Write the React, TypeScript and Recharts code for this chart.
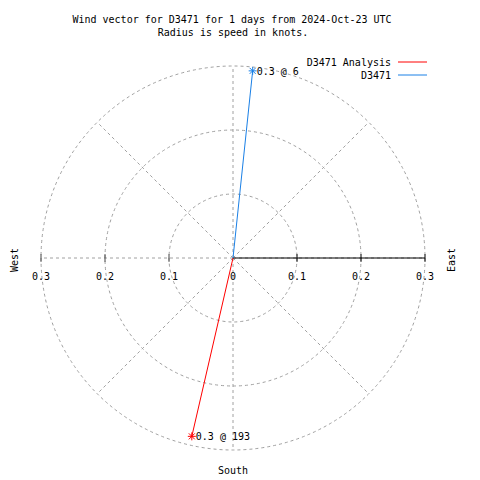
import React from 'react';
import {
  ScatterChart, Scatter, XAxis, YAxis, ReferenceLine, ReferenceDot,
  RadarChart, PolarGrid, PolarAngleAxis, PolarRadiusAxis, Radar,
} from 'recharts';

// wind vectors: speed in knots, direction in degrees (from north, clockwise)
const seriesNames = ['D3471 Analysis', 'D3471'];
const speeds = [0.286, 0.294];
const directions = [193, 6];
const seriesColors = ['#ff0000', '#1a80e6'];

const compass = ['N', 'NE', 'E', 'SE', 'S', 'SW', 'W', 'NW'];
const radiusTicks = [0.1, 0.2, 0.3];
const axisTicks = [-0.3, -0.2, -0.1, 0, 0.1, 0.2, 0.3];
const maxSpeed = 0.3;

const W = 480;
const H = 480;
const margin = { top: 66, right: 55, bottom: 30, left: 41 };
const plotW = W - margin.left - margin.right;
const plotH = H - margin.top - margin.bottom;
const cx = margin.left + plotW / 2;
const cy = margin.top + plotH / 2;
const outerR = plotW / 2;
const font = '"DejaVu Sans Mono", monospace';
const grey = '#a0a0a0';

const gridData = compass.map((d) => ({ dir: d, v: 0 }));

const vectors = seriesNames.map((name, i) => {
  const rad = (directions[i] * Math.PI) / 180;
  return {
    name,
    color: seriesColors[i],
    data: [
      { x: 0, y: 0, tip: false },
      {
        x: speeds[i] * Math.sin(rad),
        y: speeds[i] * Math.cos(rad),
        tip: true,
        label: `${speeds[i].toFixed(1)} @ ${directions[i]}`,
      },
    ],
  };
});

const Star = (color: string) => (props: any) => {
  const { cx, cy, payload } = props;
  if (!payload || !payload.tip) return <g />;
  const s = 4;
  return (
    <g>
      <line x1={cx - s} y1={cy} x2={cx + s} y2={cy} stroke={color} />
      <line x1={cx} y1={cy - s} x2={cx} y2={cy + s} stroke={color} />
      <line x1={cx - 3} y1={cy - 3} x2={cx + 3} y2={cy + 3} stroke={color} />
      <line x1={cx - 3} y1={cy + 3} x2={cx + 3} y2={cy - 3} stroke={color} />
      <text x={cx + 4} y={cy + 4} fontSize={10} fontFamily={font} fill="#000">
        {payload.label}
      </text>
    </g>
  );
};

export default function App() {
  return (
    <div style={{ position: 'absolute', left: 0, top: 0, width: W, height: H, background: '#fff', fontFamily: font }}>
      <div style={{ position: 'absolute', left: 0, top: 0 }}>
        <RadarChart width={W} height={H} data={gridData} cx={cx} cy={cy} outerRadius={outerR}>
          <PolarGrid
            gridType="circle"
            stroke={grey}
            strokeDasharray="3 3"
            polarRadius={radiusTicks.map((t) => (t / maxSpeed) * outerR)}
          />
          <PolarAngleAxis dataKey="dir" tick={false} axisLine={false} />
          <PolarRadiusAxis domain={[0, maxSpeed]} tickCount={4} tick={false} axisLine={false} />
          <Radar dataKey="v" stroke="none" fill="none" dot={false} isAnimationActive={false} />
        </RadarChart>
      </div>
      <div style={{ position: 'absolute', left: 0, top: 0 }}>
        <ScatterChart width={W} height={H} margin={margin}>
          <XAxis type="number" dataKey="x" domain={[-maxSpeed, maxSpeed]} hide allowDataOverflow />
          <YAxis type="number" dataKey="y" domain={[-maxSpeed, maxSpeed]} hide allowDataOverflow />
          <ReferenceLine segment={[{ x: 0, y: 0 }, { x: maxSpeed, y: 0 }]} stroke="#000" strokeWidth={1} />
          {axisTicks.filter((t) => t !== 0).map((t) => (
            <ReferenceLine
              key={`t${t}`}
              segment={[{ x: t, y: -0.006 }, { x: t, y: 0.006 }]}
              stroke={t > 0 ? '#000' : '#444'}
            />
          ))}
          {axisTicks.map((t) => (
            <ReferenceDot
              key={`l${t}`}
              x={t}
              y={0}
              r={0}
              fill="none"
              stroke="none"
              label={{ value: String(Math.abs(t)), position: 'bottom', offset: 15, fontSize: 10, fontFamily: font, fill: '#000' }}
            />
          ))}
          {vectors.map((v) => (
            <Scatter
              key={v.name}
              name={v.name}
              data={v.data}
              line={{ stroke: v.color, strokeWidth: 1 }}
              lineType="joint"
              fill={v.color}
              shape={Star(v.color)}
              isAnimationActive={false}
            />
          ))}
        </ScatterChart>
      </div>
      <svg width={W} height={H} style={{ position: 'absolute', left: 0, top: 0, pointerEvents: 'none' }}>
        <text x={232} y={23} fontSize={10} fontFamily={font} textAnchor="middle">
          Wind vector for D3471 for 1 days from 2024-Oct-23 UTC
        </text>
        <text x={233} y={36} fontSize={10} fontFamily={font} textAnchor="middle">
          Radius is speed in knots.
        </text>
        {vectors.map((v, i) => (
          <g key={v.name}>
            <text x={391} y={66 + i * 13} fontSize={10} fontFamily={font} textAnchor="end">
              {v.name}
            </text>
            <line x1={398} x2={427} y1={62 + i * 13} y2={62 + i * 13} stroke={v.color} />
          </g>
        ))}
        <text x={18} y={260} fontSize={10} fontFamily={font} textAnchor="middle" transform="rotate(-90 18 260)">
          West
        </text>
        <text x={455} y={260} fontSize={10} fontFamily={font} textAnchor="middle" transform="rotate(-90 455 260)">
          East
        </text>
        <text x={233} y={474} fontSize={10} fontFamily={font} textAnchor="middle">
          South
        </text>
      </svg>
    </div>
  );
}
